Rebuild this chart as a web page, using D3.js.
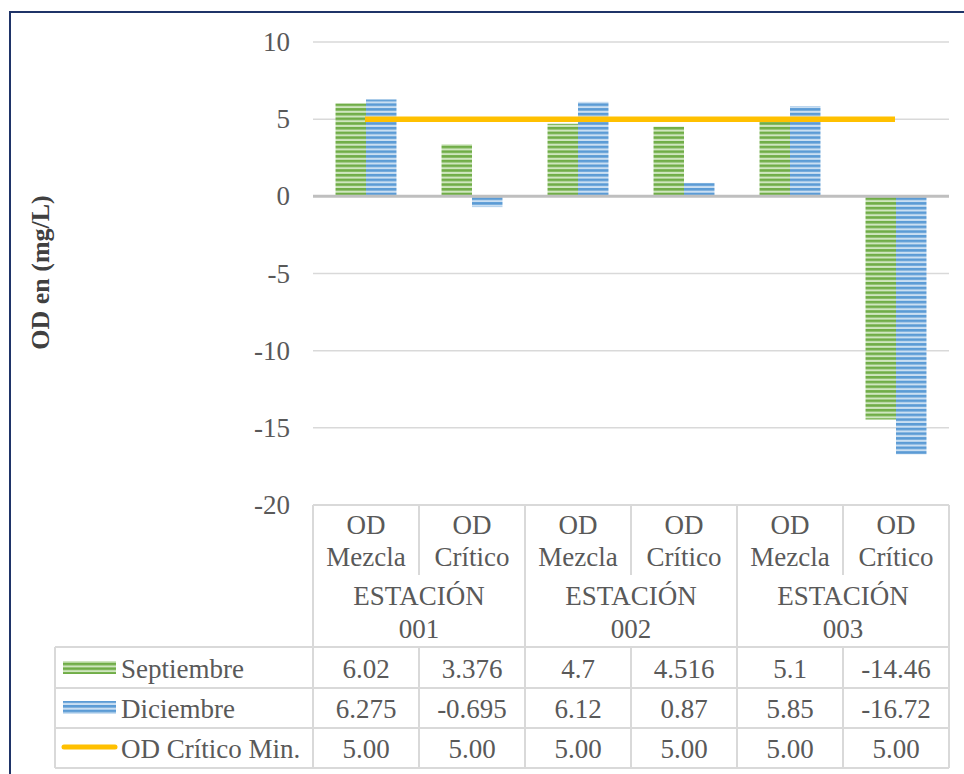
<!DOCTYPE html>
<html>
<head>
<meta charset="utf-8">
<script src="https://cdn.jsdelivr.net/npm/d3@7/dist/d3.min.js"></script>
<style>
  html, body { margin: 0; padding: 0; background: #fff; }
</style>
</head>
<body>
<svg id="chart" width="964" height="774"></svg>
<script>
// Categories: two sub-categories per station
const subCategories = ["OD Mezcla", "OD Crítico", "OD Mezcla", "OD Crítico", "OD Mezcla", "OD Crítico"];
const stations = ["ESTACIÓN 001", "ESTACIÓN 002", "ESTACIÓN 003"];
// Series values (OD en mg/L)
const septiembre = [6.02, 3.376, 4.7, 4.516, 5.1, -14.46];
const diciembre = [6.275, -0.695, 6.12, 0.87, 5.85, -16.72];
const odCriticoMin = [5.00, 5.00, 5.00, 5.00, 5.00, 5.00];
// Table labels as shown in the data table
const septiembreLabels = ["6.02", "3.376", "4.7", "4.516", "5.1", "-14.46"];
const diciembreLabels = ["6.275", "-0.695", "6.12", "0.87", "5.85", "-16.72"];
const minLabels = ["5.00", "5.00", "5.00", "5.00", "5.00", "5.00"];
const yTicks = [10, 5, 0, -5, -10, -15, -20];
const seriesNames = ["Septiembre", "Diciembre", "OD Crítico Min."];

const FONT = "Liberation Serif";
const TXT = "#595959";
const FS = 27;
const MID = Math.round(FS * 0.34); // baseline offset that centres digits/caps vertically

const svg = d3.select("#chart");

const plotLeft = 313, plotRight = 949, plotTop = 42, plotBottom = 505;
const idx = d3.range(subCategories.length);

const x = d3.scaleBand().domain(idx).range([plotLeft, plotRight]).paddingInner(0).paddingOuter(0);
const groupW = x.bandwidth() * 0.575;
const xs = d3.scaleBand().domain([0, 1]).range([0, groupW]);
const y = d3.scaleLinear().domain([-20, 10]).range([plotBottom, plotTop]);

// Text labels are positioned with a transform
function label(tx, ty, str, anchor) {
  return svg.append("text")
    .attr("transform", `translate(${tx},${ty + MID}) rotate(0)`)
    .attr("text-anchor", anchor || "middle")
    .style("font-family", FONT).style("font-size", FS + "px").style("fill", TXT)
    .text(str);
}

// Striped fills
const defs = svg.append("defs");
function stripes(id, dark, light) {
  const p = defs.append("pattern").attr("id", id)
    .attr("patternUnits", "userSpaceOnUse").attr("width", 8).attr("height", 4.7);
  p.append("rect").attr("width", 8).attr("height", 4.7).attr("fill", dark);
  p.append("rect").attr("y", 2.6).attr("width", 8).attr("height", 2.1).attr("fill", light);
}
stripes("pSep", "#70ad47", "#cfe6bf");
stripes("pDic", "#5b9bd5", "#cadff2");

// Outer frame
svg.append("path").attr("d", "M10,780 L10,12 L970,12")
  .attr("fill", "none").attr("stroke", "#1f3468").attr("stroke-width", 2);

// Gridlines
svg.append("g").selectAll("line").data(yTicks.filter(d => d !== 0)).join("line")
  .attr("x1", plotLeft).attr("x2", plotRight)
  .attr("y1", d => y(d)).attr("y2", d => y(d))
  .attr("stroke", "#d9d9d9").attr("stroke-width", 1.5);

// Y axis tick labels, positioned by the y scale
yTicks.forEach(t => label(290, y(t), String(t), "end"));

// Axis title
svg.append("text")
  .attr("transform", `translate(49,${(190 + 355) / 2}) rotate(-90)`)
  .attr("text-anchor", "middle")
  .style("font-family", FONT).style("font-size", "26px").style("font-weight", "bold").style("fill", "#404040")
  .text("OD en (mg/L)");

// Bars
const bars = svg.append("g");
function drawSeries(values, k, fillId) {
  bars.selectAll(null).data(values).join("rect")
    .attr("x", (d, i) => x(i) + (x.bandwidth() - groupW) / 2 + xs(k))
    .attr("width", xs.bandwidth())
    .attr("y", d => Math.min(y(d), y(0)))
    .attr("height", d => Math.abs(y(d) - y(0)))
    .attr("fill", `url(#${fillId})`);
}
drawSeries(septiembre, 0, "pSep");
drawSeries(diciembre, 1, "pDic");

// Zero axis
svg.append("line").attr("x1", plotLeft).attr("x2", plotRight)
  .attr("y1", y(0)).attr("y2", y(0)).attr("stroke", "#bfbfbf").attr("stroke-width", 3);

// Critical minimum line
const line = d3.line().x((d, i) => x(i) + x.bandwidth() / 2 - 1).y(d => y(d));
svg.append("path").datum(odCriticoMin).attr("d", line)
  .attr("fill", "none").attr("stroke", "#ffc000").attr("stroke-width", 5.5);

// Data table
const tbl = svg.append("g");
const grid = "#d9d9d9";
const rowTops = [647, 688, 728, 768];
const legendLeft = 55;
const catBoundaries = d3.range(subCategories.length + 1).map(i => i < subCategories.length ? x(i) : plotRight);

function hline(x1, x2, yy) {
  tbl.append("line").attr("x1", x1).attr("x2", x2).attr("y1", yy).attr("y2", yy)
    .attr("stroke", grid).attr("stroke-width", 2);
}
function vline(xx, y1, y2) {
  tbl.append("line").attr("x1", xx).attr("x2", xx).attr("y1", y1).attr("y2", y2)
    .attr("stroke", grid).attr("stroke-width", 2);
}
hline(plotLeft, plotRight, plotBottom);
rowTops.forEach(r => hline(legendLeft, plotRight, r));
vline(legendLeft, rowTops[0], rowTops[3]);
catBoundaries.forEach((b, i) => {
  if (i % 2 === 0) vline(b, plotBottom, rowTops[3]);
  else { vline(b, plotBottom, 575); vline(b, rowTops[0], rowTops[3]); }
});

// Category labels
idx.forEach(i => {
  const cx = x(i) + x.bandwidth() / 2;
  const parts = subCategories[i].split(" ");
  label(cx, 525, parts[0]);
  label(cx, 557, parts[1]);
});
stations.forEach((s, j) => {
  const cx = (x(2 * j) + (x(2 * j + 1) + x.bandwidth())) / 2;
  const parts = s.split(" ");
  label(cx, 596, parts[0]);
  label(cx, 629, parts[1]);
});

// Table values
[septiembreLabels, diciembreLabels, minLabels].forEach((row, r) => {
  const cy = (rowTops[r] + rowTops[r + 1]) / 2 + 1;
  row.forEach((v, i) => label(x(i) + x.bandwidth() / 2, cy, v));
  label(121, cy, seriesNames[r], "start");
});

// Legend keys
const leg = svg.append("g");
leg.append("rect").attr("x", 63).attr("y", 661).attr("width", 53).attr("height", 13).attr("fill", "url(#pSep)");
leg.append("rect").attr("x", 63).attr("y", 701).attr("width", 53).attr("height", 13).attr("fill", "url(#pDic)");
leg.append("line").attr("x1", 64).attr("x2", 115).attr("y1", 747).attr("y2", 747)
  .attr("stroke", "#ffc000").attr("stroke-width", 5).attr("stroke-linecap", "round");
</script>
</body>
</html>
